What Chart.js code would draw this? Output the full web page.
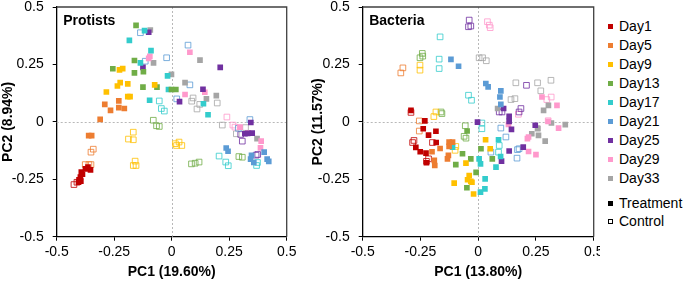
<!DOCTYPE html>
<html lang="en">
<head>
  <meta charset="UTF-8">
  <title>PCA Protists / Bacteria</title>
  <script src="https://cdn.jsdelivr.net/npm/chart.js"></script>
  <style>
    body { margin: 0; background: #fff; font-family: "Liberation Sans", Arial, sans-serif; }
    #wrap { position: relative; width: 685px; height: 281px; }
    .panel { position: absolute; top: 0; width: 300px; height: 281px; }
    #legend { position: absolute; left: 608px; top: 0; font-size: 14px; color: #000; }
    #legend div { position: absolute; white-space: nowrap; line-height: 16px; }
    #legend span { display: inline-block; width: 5px; height: 5px; margin-right: 6px; vertical-align: 2px; box-sizing: border-box; }
  </style>
</head>
<body>
  <div id="wrap">
    <div class="panel" style="left:0"><canvas id="protists"></canvas></div>
    <div class="panel" style="left:300px"><canvas id="bacteria"></canvas></div>
    <div id="legend"></div>
  </div>

  <script>
    const days = ['Day1', 'Day5', 'Day9', 'Day13', 'Day17', 'Day21', 'Day25', 'Day29', 'Day33'];
    const dayColors = ['#C00000', '#ED7D31', '#FFC000', '#70AD47', '#33CCCC', '#5B9BD5', '#7030A0', '#FF99CC', '#A5A5A5'];
    const axisTicks = [-0.5, -0.25, 0, 0.25, 0.5];
    const tickText = ['-0.5', '-0.25', '0', '0.25', '0.5'];

    // protists, treatment (filled) - one list of [PC1, PC2] per day
    const protTreat = [
      [[-0.364,-0.197],[-0.353,-0.209],[-0.375,-0.205],[-0.393,-0.219],[-0.388,-0.228],[-0.397,-0.24],[-0.403,-0.252],[-0.405,-0.263],[-0.395,-0.258]],
      [[-0.291,0.076],[-0.23,0.091],[-0.266,0.05],[-0.23,0.062],[-0.206,0.058],[-0.311,0.011],[-0.361,-0.06],[-0.348,-0.06]],
      [[-0.227,0.226],[-0.213,0.232],[-0.224,0.171],[-0.236,0.156],[-0.191,0.165],[-0.074,0.161],[-0.284,0.13],[-0.191,0.11],[-0.181,0.11]],
      [[-0.155,0.42],[-0.162,0.267],[-0.123,0.218],[-0.256,0.231],[-0.162,0.213],[-0.125,0.151],[-0.064,0.151],[-0.001,0.141],[0.018,0.141]],
      [[-0.118,0.397],[-0.184,0.355],[-0.09,0.31],[-0.136,0.257],[-0.018,0.2],[-0.014,0.141],[-0.096,0.094],[0.138,0.079],[0.158,0.031]],
      [[0.237,-0.114],[0.245,-0.128],[0.402,-0.132],[0.347,-0.146],[0.343,-0.162],[0.357,-0.177],[0.415,-0.162],[0.422,-0.172]],
      [[-0.10,0.39],[-0.125,0.237],[0.211,0.237],[0.136,0.142],[0.034,0.088],[0.344,-0.003],[0.318,-0.052],[0.35,-0.049],[0.33,-0.05]],
      [[-0.10,0.276],[-0.095,0.285],[0.079,0.303],[0.144,0.129],[0.058,0.119],[0.297,-0.023],[0.333,-0.049],[0.389,-0.084],[0.386,-0.113]],
      [[-0.093,0.40],[-0.079,0.257],[-0.001,0.207],[0.123,0.269],[0.058,0.171],[0.194,0.114],[0.151,0.10],[0.371,-0.073]]
    ];
    // protists, control (open)
    const protCtrl = [
      [[-0.425,-0.273],[-0.412,-0.263]],
      [[-0.341,-0.119],[-0.351,-0.132],[-0.376,-0.186],[-0.36,-0.186],[-0.351,-0.186]],
      [[-0.167,-0.045],[-0.188,-0.075],[-0.167,-0.078],[-0.159,-0.171],[-0.167,-0.19],[-0.155,-0.19],[0.016,-0.095],[0.021,-0.103],[0.032,-0.088],[0.044,-0.103]],
      [[-0.08,0.007],[-0.066,-0.017],[-0.054,-0.02],[0.086,-0.183],[0.102,-0.18],[0.119,-0.175],[0.292,-0.151],[0.307,-0.154]],
      [[-0.054,0.091],[-0.045,0.058],[-0.032,0.047],[0.206,-0.149],[0.235,-0.175],[0.246,-0.191],[0.373,-0.177],[0.369,-0.19]],
      [[-0.136,0.388],[-0.115,0.264],[-0.022,0.279],[0.071,0.334],[0.079,0.161],[0.022,0.10],[0.34,0.01],[0.29,-0.028]],
      [[0.30,-0.055],[0.307,-0.084],[0.374,-0.142],[0.367,-0.145]],
      [[0.24,0.021],[0.266,-0.014],[0.275,-0.023]],
      [[0.093,0.104],[0.087,0.09],[0.198,0.082],[0.122,0.076],[0.11,0.056],[0.22,-0.014],[0.321,-0.025],[0.281,-0.052]]
    ];
    // bacteria, treatment (filled)
    const bactTreat = [
      [[-0.291,0.05],[-0.231,0.004],[-0.238,-0.03],[-0.215,-0.058],[-0.183,-0.041],[-0.27,-0.111],[-0.251,-0.13],[-0.182,-0.09],[-0.226,-0.136],[-0.224,-0.178]],
      [[-0.2,-0.13],[-0.165,-0.116],[-0.19,-0.168],[-0.188,-0.19],[-0.126,-0.088],[-0.111,-0.088],[-0.126,-0.107],[-0.129,-0.146],[-0.133,-0.161]],
      [[-0.053,-0.18],[-0.039,-0.234],[-0.046,-0.252],[-0.032,-0.259],[-0.027,-0.263],[-0.104,-0.267],[-0.02,-0.314],[0.032,-0.078],[0.052,-0.117]],
      [[-0.048,-0.04],[-0.097,-0.186],[-0.068,-0.139],[-0.032,-0.161],[-0.009,-0.22],[-0.049,-0.287],[0.012,-0.117],[0.061,-0.161]],
      [[-0.111,-0.11],[0.004,-0.161],[0.01,-0.183],[0.088,-0.078],[0.077,-0.197],[0.097,-0.151],[0.03,-0.248],[0.029,-0.292],[0.01,-0.306]],
      [[-0.118,0.272],[-0.085,0.242],[0.033,0.167],[0.043,0.152],[0.098,0.135],[0.094,0.108],[0.098,0.076]],
      [[-0.003,-0.001],[0.11,0.058],[0.134,0.024],[0.134,0.002],[0.247,-0.015],[0.144,-0.033],[0.134,-0.127],[0.195,-0.11],[0.101,-0.171]],
      [[0.276,0.108],[0.341,0.072],[0.131,-0.011],[0.303,0.002],[0.348,-0.027],[0.218,-0.066],[0.213,-0.073],[0.218,-0.129],[0.25,-0.143]],
      [[0.084,0.058],[0.304,0.072],[0.283,0.05],[0.257,-0.027],[0.317,-0.005],[0.377,-0.012],[0.258,-0.03],[0.261,-0.059],[0.232,-0.052],[0.29,-0.084]]
    ];
    // bacteria, control (open)
    const bactCtrl = [
      [[-0.291,0.041],[-0.278,-0.081],[-0.284,-0.09],[-0.198,-0.09],[-0.215,-0.161],[-0.224,-0.172]],
      [[-0.326,0.235],[-0.335,0.213],[-0.255,0.004],[-0.255,-0.04]],
      [[-0.252,0.247],[-0.252,0.225],[-0.183,0.043],[-0.192,0.023],[-0.097,-0.107],[-0.1,-0.124]],
      [[-0.242,0.298],[-0.24,0.286],[-0.252,0.279],[-0.161,0.043],[-0.157,0.036],[-0.056,-0.017],[-0.061,-0.063],[-0.053,-0.071]],
      [[-0.165,0.37],[-0.169,0.273],[-0.169,0.232],[-0.042,0.116],[-0.029,0.094],[0.016,-0.005],[0.016,-0.03],[0.091,-0.103],[0.088,-0.132]],
      [[0.098,-0.027],[0.12,-0.066],[0.055,-0.132],[0.17,-0.121],[0.177,-0.117],[0.168,-0.158]],
      [[-0.039,0.443],[-0.042,0.414],[-0.032,0.417],[0.209,0.159],[0.091,0.043],[0.103,0.043],[0.185,0.058],[0.177,0.043]],
      [[0.04,0.436],[0.048,0.421],[0.052,0.41],[0.297,0.097],[0.316,0.108],[0.174,0.033],[0.303,0.005]],
      [[0.004,0.279],[0.019,0.279],[0.035,0.266],[0.163,0.17],[0.257,0.17],[0.315,0.181],[0.271,0.135],[0.142,0.097],[0.159,0.101]]
    ];

    Chart.defaults.font.family = '"Liberation Sans", Arial, sans-serif';
    Chart.defaults.font.size = 14;
    Chart.defaults.color = '#000';

    // open markers look a bit washed out in the original
    function fade(hex, a) {
      const n = parseInt(hex.slice(1), 16);
      return 'rgba(' + (n >> 16) + ',' + ((n >> 8) & 255) + ',' + (n & 255) + ',' + a + ')';
    }

    function buildDatasets(treat, ctrl) {
      const sets = [];
      days.forEach((d, i) => {
        sets.push({
          label: d + ' treatment',
          data: treat[i].map(p => ({ x: p[0], y: p[1] })),
          pointStyle: 'rect', pointRadius: 4, pointHoverRadius: 4,
          backgroundColor: dayColors[i], borderColor: dayColors[i], borderWidth: 0
        });
      });
      days.forEach((d, i) => {
        sets.push({
          label: d + ' control',
          data: ctrl[i].map(p => ({ x: p[0], y: p[1] })),
          pointStyle: 'rect', pointRadius: 4, pointHoverRadius: 4,
          backgroundColor: 'rgba(255,255,255,0)', borderColor: fade(dayColors[i], 0.8), borderWidth: 1
        });
      });
      return sets;
    }

    // zero lines, top/right frame and panel name
    function framePlugin(name) {
      return {
        id: 'frame',
        beforeDatasetsDraw(chart) {
          const { ctx, chartArea: a, scales } = chart;
          const x0 = Math.round(scales.x.getPixelForValue(0)) + 0.5;
          const y0 = Math.round(scales.y.getPixelForValue(0)) + 0.5;
          ctx.save();
          ctx.strokeStyle = '#b8b8b8';
          ctx.lineWidth = 1;
          ctx.setLineDash([2, 2]);
          ctx.beginPath();
          ctx.moveTo(x0, a.top); ctx.lineTo(x0, a.bottom);
          ctx.moveTo(a.left, y0); ctx.lineTo(a.right, y0);
          ctx.stroke();
          ctx.setLineDash([]);
          ctx.strokeStyle = '#404040';
          ctx.lineWidth = 1.3;
          ctx.beginPath();
          ctx.moveTo(a.left, a.top); ctx.lineTo(a.right, a.top); ctx.lineTo(a.right, a.bottom);
          ctx.stroke();
          ctx.fillStyle = '#000';
          ctx.font = 'bold 14px "Liberation Sans", Arial, sans-serif';
          ctx.textBaseline = 'alphabetic';
          ctx.fillText(name, a.left + 6.5, a.top + 17.5);
          ctx.restore();
        }
      };
    }

    function makeChart(id, name, treat, ctrl, xTitle, yTitle, yWidth, padRight, yTitlePad) {
      return new Chart(document.getElementById(id), {
        type: 'scatter',
        data: { datasets: buildDatasets(treat, ctrl) },
        options: {
          responsive: true,
          maintainAspectRatio: false,
          animation: false,
          layout: { padding: { left: 0, top: 7, right: padRight, bottom: 0 } },
          plugins: { legend: { display: false }, tooltip: { enabled: false } },
          scales: {
            x: {
              type: 'linear', min: -0.5, max: 0.5,
              afterBuildTicks: s => { s.ticks = axisTicks.map(v => ({ value: v })); },
              afterFit: s => { s.height = 44.3; s.paddingLeft = 0; s.paddingRight = 0; },
              ticks: { callback: (v, i) => tickText[i], padding: 3, maxRotation: 0, autoSkip: false },
              grid: { drawOnChartArea: false, color: '#000', tickLength: 4 },
              border: { color: '#000', width: 1.3 },
              title: { display: true, text: xTitle, font: { size: 14, weight: 'bold' }, padding: { top: 0, bottom: 0 } }
            },
            y: {
              type: 'linear', min: -0.5, max: 0.5,
              afterBuildTicks: s => { s.ticks = axisTicks.map(v => ({ value: v })); },
              afterFit: s => { s.width = yWidth; s.paddingTop = 0; s.paddingBottom = 0; },
              ticks: { callback: (v, i) => tickText[i], padding: 9, autoSkip: false },
              grid: { drawOnChartArea: false, color: '#000', tickLength: 4 },
              border: { color: '#000', width: 1.3 },
              title: { display: true, text: yTitle, font: { size: 14, weight: 'bold' }, padding: { top: yTitlePad, bottom: 0 } }
            }
          }
        },
        plugins: [framePlugin(name)]
      });
    }

    makeChart('protists', 'Protists', protTreat, protCtrl, 'PC1 (19.60%)', 'PC2 (8.94%)', 56.7, 13.3, 0);
    makeChart('bacteria', 'Bacteria', bactTreat, bactCtrl, 'PC1 (13.80%)', 'PC2 (11.57%)', 62.7, 6.3, 10);

    // legend
    const legend = document.getElementById('legend');
    const rows = days.map((d, i) => ({ text: d, fill: dayColors[i], line: dayColors[i], y: 26 + i * 18.95 }));
    rows.push({ text: 'Treatment', fill: '#000', line: '#000', y: 202.7 });
    rows.push({ text: 'Control', fill: '#fff', line: '#000', y: 220.7 });
    rows.forEach(r => {
      const el = document.createElement('div');
      el.style.top = (r.y - 8) + 'px';
      const sw = document.createElement('span');
      sw.style.background = r.fill;
      sw.style.border = '1px solid ' + r.line;
      el.appendChild(sw);
      el.appendChild(document.createTextNode(r.text));
      legend.appendChild(el);
    });
  </script>
</body>
</html>
